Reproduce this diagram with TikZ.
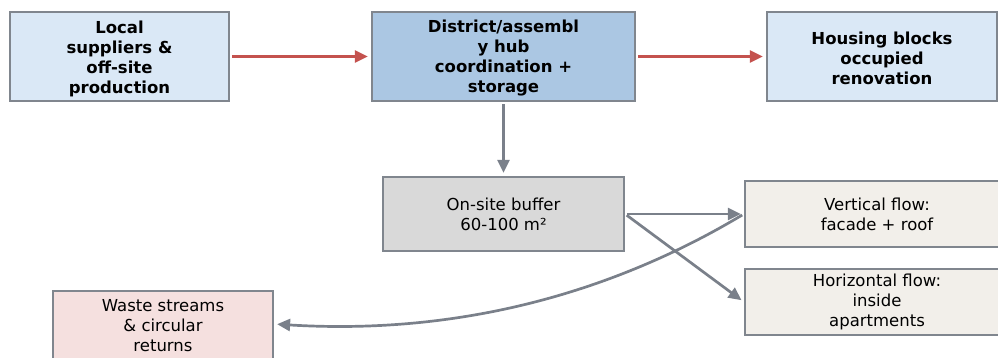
\documentclass[tikz,border=0pt]{standalone}
\usepackage{fontspec}
\setmainfont{DejaVu Sans}
\usetikzlibrary{arrows.meta}
\definecolor{bordergray}{HTML}{80868E}
\definecolor{arrowgray}{HTML}{7A808A}
\definecolor{arrowred}{HTML}{C4524E}
\definecolor{lightblue}{HTML}{DAE8F6}
\definecolor{midblue}{HTML}{ABC7E3}
\definecolor{buffergray}{HTML}{D9D9D9}
\definecolor{flowbeige}{HTML}{F2EFEA}
\definecolor{wastepink}{HTML}{F5E0DF}
\newcommand{\topstrut}{\rule{0pt}{16.5pt}}
\tikzset{
  box/.style={draw=bordergray, line width=2.2pt, align=center, inner sep=0pt,
    font=\fontsize{16.5}{20}\selectfont},
  boldbox/.style={box, font=\fontsize{16.5}{20}\selectfont\bfseries},
  redarrow/.style={draw=arrowred, line width=2.7pt, -{Stealth[length=13pt,width=12pt,inset=0pt]}, shorten <=2pt, shorten >=3pt},
  grayarrow/.style={draw=arrowgray, line width=2.7pt, -{Stealth[length=13pt,width=12pt,inset=0pt]}, shorten <=2pt, shorten >=3pt}
}
\begin{document}
\begin{tikzpicture}[x=1pt,y=-1pt]
\useasboundingbox (0,0) rectangle (998,358);
\clip (0,0) rectangle (998,358);
\node[boldbox, fill=lightblue, minimum width=219pt, minimum height=89pt] (sup) at (119.5,56.5) {\topstrut Local\\suppliers \&\\off-site\\production};
\node[boldbox, fill=midblue, minimum width=263pt, minimum height=89pt] (hub) at (503.5,56.5) {\topstrut District/assembl\\y hub\\coordination +\\storage};
\node[boldbox, fill=lightblue, minimum width=230pt, minimum height=89pt] (house) at (882,56.5) {\topstrut Housing blocks\\occupied\\renovation};
\node[box, fill=buffergray, minimum width=241pt, minimum height=74pt] (buf) at (503.5,214) {On-site buffer\\60-100 m²};
\node[box, fill=flowbeige, minimum width=264pt, minimum height=66pt] (vert) at (877,214) {Vertical flow:\\facade + roof};
\node[box, fill=flowbeige, minimum width=264pt, minimum height=66pt] (hor) at (877,302) {Horizontal flow:\\inside\\apartments};
\node[box, fill=wastepink, minimum width=220pt, minimum height=70pt] (waste) at (163,326) {Waste streams\\\& circular\\returns};
\draw[redarrow] (sup.east) -- (hub.west);
\draw[redarrow] (hub.east) -- (house.west);
\draw[grayarrow] (hub.south) -- (buf.north);
\draw[grayarrow] (buf.east) -- (vert.west);
\draw[grayarrow] (buf.east) -- (hor.west);
\draw[grayarrow] (vert.west) .. controls (607,296) and (453,335) .. ([yshift=2pt]waste.east);
\end{tikzpicture}
\end{document}
